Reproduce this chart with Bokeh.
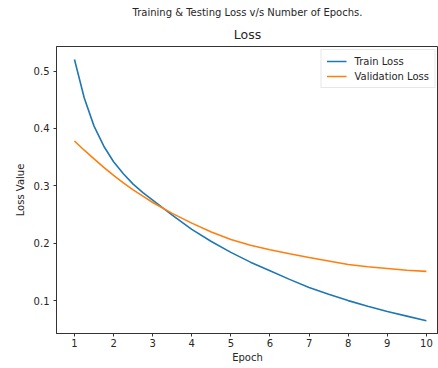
from bokeh.plotting import figure
from bokeh.models import Range1d, FixedTicker, Title, Legend, LegendItem
from bokeh.embed import file_html
from bokeh.resources import INLINE

epochs = [1, 1.25, 1.5, 1.75, 2, 2.25, 2.5, 2.75, 3, 3.5, 4, 4.5, 5, 5.5, 6, 6.5, 7, 7.5,
          8, 8.5, 9, 9.5, 10]
train_loss = [0.520, 0.453, 0.404, 0.369, 0.342, 0.321, 0.303, 0.288, 0.275, 0.249, 0.224,
              0.203, 0.184, 0.167, 0.152, 0.137, 0.123, 0.111, 0.100, 0.090, 0.081, 0.073, 0.065]
val_loss = [0.378, 0.362, 0.347, 0.332, 0.318, 0.305, 0.293, 0.282, 0.271, 0.252, 0.235,
            0.2195, 0.2065, 0.1965, 0.1885, 0.1815, 0.175, 0.169, 0.163, 0.159, 0.156, 0.153, 0.151]
x_ticks = [1, 2, 3, 4, 5, 6, 7, 8, 9, 10]
y_ticks = [0.1, 0.2, 0.3, 0.4, 0.5]

FONT = "DejaVu Sans"
TXT = "#262626"

p = figure(width=438, height=368, output_backend="svg", toolbar_location=None,
           x_range=Range1d(0.54, 10.31), y_range=Range1d(0.0427, 0.5427),
           min_border_left=56, min_border_right=0, min_border_top=46, min_border_bottom=35)

p.title.text = "Training & Testing Loss v/s Number of Epochs."
p.title.align = "center"
p.title.text_font = FONT
p.title.text_font_size = "10px"
p.title.text_font_style = "normal"
p.title.text_color = TXT
p.title.standoff = 4
p.title.offset = 0
p.add_layout(Title(text="Loss", align="center",
                   text_font=FONT, text_font_size="12.5px", text_font_style="normal",
                   text_color=TXT, standoff=10), "above")

p.xgrid.visible = False
p.ygrid.visible = False
p.outline_line_color = "#333333"
p.outline_line_width = 1

for ax in (p.xaxis[0], p.yaxis[0]):
    ax.axis_line_color = "#333333"
    ax.major_tick_line_color = "#333333"
    ax.major_tick_out = 3
    ax.major_tick_in = 0
    ax.minor_tick_line_color = None
    ax.major_label_text_font = FONT
    ax.major_label_text_font_size = "10px"
    ax.major_label_text_color = TXT
    ax.axis_label_text_font = FONT
    ax.axis_label_text_font_size = "10px"
    ax.axis_label_text_font_style = "normal"
    ax.axis_label_text_color = TXT

p.xaxis.ticker = FixedTicker(ticks=x_ticks)
p.yaxis.ticker = FixedTicker(ticks=y_ticks)
p.xaxis.axis_label = "Epoch"
p.yaxis.axis_label = "Loss Value"
p.xaxis.major_label_standoff = 2
p.yaxis.major_label_standoff = 4
p.xaxis.axis_label_standoff = 2
p.yaxis.axis_label_standoff = 5

r1 = p.line(epochs, train_loss, line_color="#1f77b4", line_width=1.6)
r2 = p.line(epochs, val_loss, line_color="#ff7f0e", line_width=1.6)

legend = Legend(items=[LegendItem(label="Train Loss", renderers=[r1]),
                       LegendItem(label="Validation Loss", renderers=[r2])],
                location="top_right")
legend.label_text_font = FONT
legend.label_text_font_size = "10px"
legend.label_text_color = TXT
legend.border_line_color = "#d0d0d0"
legend.border_line_width = 1
legend.glyph_width = 20
legend.glyph_height = 12
legend.label_height = 12
legend.spacing = 3
legend.padding = 5
legend.margin = 3
legend.label_standoff = 8
p.add_layout(legend)

open("out.html", "w").write(file_html(p, INLINE))
